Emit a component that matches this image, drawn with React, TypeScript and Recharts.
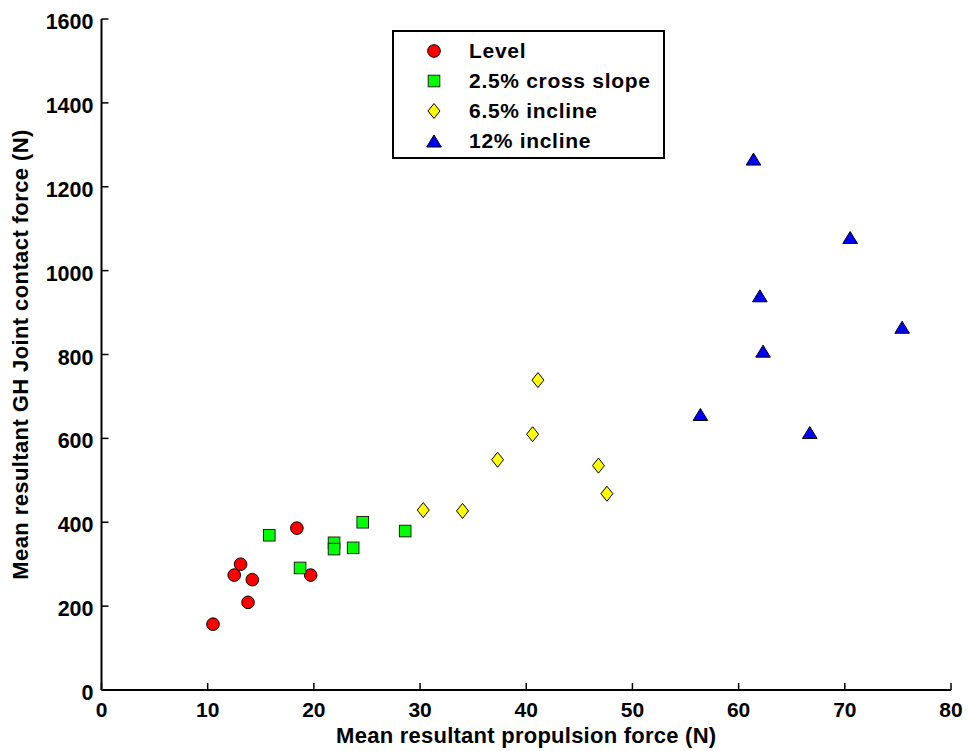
import React from 'react';
import { ScatterChart, Scatter, XAxis, YAxis, Legend } from 'recharts';

// values
const levelX = [10.5, 12.5, 13.1, 13.8, 14.2, 18.4, 19.7];
const levelY = [157, 274, 300, 209, 263, 386, 274];

const crossX = [15.8, 18.7, 21.9, 21.9, 23.7, 24.6, 28.6];
const crossY = [369, 291, 351, 336, 339, 400, 379];

const incline65X = [30.3, 34.0, 37.3, 40.6, 41.1, 46.8, 47.6];
const incline65Y = [429, 427, 549, 610, 739, 535, 468];

const incline12X = [61.4, 70.5, 62.0, 75.4, 62.3, 56.4, 66.7];
const incline12Y = [1266, 1079, 940, 865, 808, 657, 614];

const seriesNames = ['Level', '2.5% cross slope', '6.5% incline', '12% incline'];
const xTicks = [0, 10, 20, 30, 40, 50, 60, 70, 80];
const yTicks = [0, 200, 400, 600, 800, 1000, 1200, 1400, 1600];

const toPoints = (xs: number[], ys: number[]) => xs.map((x, i) => ({ x, y: ys[i] }));

const FONT = '"Liberation Sans", Arial, Helvetica, sans-serif';

const Marker = ({ kind, cx, cy }: { kind: number; cx: number; cy: number }) => {
  if (kind === 0) {
    return <circle cx={cx} cy={cy} r={6.3} fill="#ff0000" stroke="#000" strokeWidth={1} />;
  }
  if (kind === 1) {
    return <rect x={cx - 5.8} y={cy - 5.8} width={11.6} height={11.6} fill="#00ff00" stroke="#222" strokeWidth={1} />;
  }
  if (kind === 2) {
    return (
      <polygon
        points={`${cx},${cy - 7.5} ${cx + 6},${cy} ${cx},${cy + 7.5} ${cx - 6},${cy}`}
        fill="#ffff00"
        stroke="#000"
        strokeWidth={1}
      />
    );
  }
  return (
    <polygon
      points={`${cx},${cy - 6} ${cx + 7.3},${cy + 6} ${cx - 7.3},${cy + 6}`}
      fill="#0000ff"
      stroke="#000"
      strokeWidth={1}
    />
  );
};

const shapeFor = (kind: number) => (props: any) => <Marker kind={kind} cx={props.cx} cy={props.cy} />;

const XTick = ({ x, y, payload }: any) => (
  <text x={x} y={y + 27} textAnchor="middle" fill="#000" fontSize={21} fontWeight="bold" fontFamily={FONT}>
    {payload.value}
  </text>
);

const YTick = ({ x, y, payload }: any) => (
  <text x={x} y={y + 3} textAnchor="end" dominantBaseline="central" fill="#000" fontSize={21.5} fontWeight="bold" fontFamily={FONT}>
    {payload.value}
  </text>
);

const YLabel = ({ viewBox }: any) => {
  const cx = 20;
  const cy = viewBox.y + viewBox.height / 2;
  return (
    <text
      x={cx}
      y={cy}
      transform={`rotate(-90 ${cx} ${cy})`}
      textAnchor="middle"
      dominantBaseline="central"
      fill="#000"
      fontSize={22}
      fontWeight="bold"
      letterSpacing={0.4}
      fontFamily={FONT}
    >
      Mean resultant GH Joint contact force (N)
    </text>
  );
};

const XLabel = ({ viewBox }: any) => {
  const cx = viewBox.x + viewBox.width / 2;
  return (
    <text x={cx} y={743} textAnchor="middle" fill="#000" fontSize={22} fontWeight="bold" letterSpacing={0.25} fontFamily={FONT}>
      Mean resultant propulsion force (N)
    </text>
  );
};

const LegendBox = () => (
  <div
    style={{
      width: 273,
      height: 129,
      boxSizing: 'border-box',
      border: '2px solid #000',
      background: '#fff',
      paddingTop: 4,
      fontFamily: FONT,
      fontWeight: 'bold',
      fontSize: 21,
      letterSpacing: 0.7,
      color: '#000',
    }}
  >
    {seriesNames.map((name, i) => (
      <div key={name} style={{ height: 30, display: 'flex', alignItems: 'center' }}>
        <svg width={75} height={30} style={{ display: 'block' }}>
          <Marker kind={i} cx={40} cy={15} />
        </svg>
        <span>{name}</span>
      </div>
    ))}
  </div>
);

export default function App() {
  return (
    <div style={{ position: 'absolute', left: 0, top: 0, background: '#fff' }}>
      <ScatterChart width={968} height={751} margin={{ top: 19, right: 17, bottom: 0, left: 0 }}>
        <XAxis
          type="number"
          dataKey="x"
          domain={[0, 80]}
          ticks={xTicks}
          interval={0}
          height={61}
          axisLine={{ stroke: '#000', strokeWidth: 2 }}
          tickLine={{ stroke: '#000', strokeWidth: 1.5 }}
          tickSize={-7}
          tickMargin={7}
          tick={<XTick />}
          label={<XLabel />}
        />
        <YAxis
          type="number"
          dataKey="y"
          domain={[0, 1600]}
          ticks={yTicks}
          interval={0}
          width={101.5}
          axisLine={{ stroke: '#000', strokeWidth: 2 }}
          tickLine={{ stroke: '#000', strokeWidth: 1.5 }}
          tickSize={-7}
          tickMargin={15}
          tick={<YTick />}
          label={<YLabel />}
        />
        <Legend
          layout="vertical"
          align="center"
          verticalAlign="middle"
          content={<LegendBox />}
          wrapperStyle={{ left: 392, top: 30, width: 273, height: 129 }}
        />
        <Scatter name={seriesNames[0]} data={toPoints(levelX, levelY)} shape={shapeFor(0)} isAnimationActive={false} />
        <Scatter name={seriesNames[1]} data={toPoints(crossX, crossY)} shape={shapeFor(1)} isAnimationActive={false} />
        <Scatter name={seriesNames[2]} data={toPoints(incline65X, incline65Y)} shape={shapeFor(2)} isAnimationActive={false} />
        <Scatter name={seriesNames[3]} data={toPoints(incline12X, incline12Y)} shape={shapeFor(3)} isAnimationActive={false} />
      </ScatterChart>
    </div>
  );
}
